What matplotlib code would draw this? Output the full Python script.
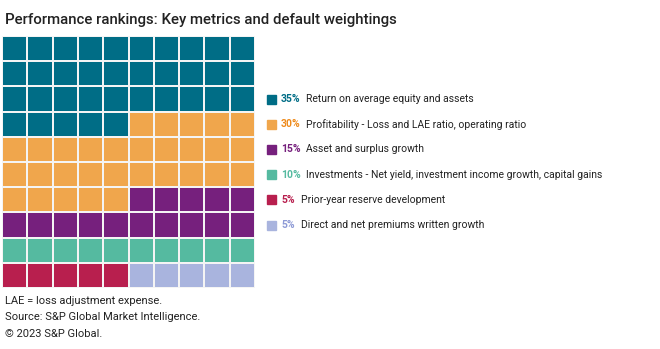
import numpy as np
import matplotlib
matplotlib.use("Agg")
from matplotlib import pyplot as plt
from matplotlib.colors import ListedColormap

# data
labels = ["Return on average equity and assets",
          "Profitability - Loss and LAE ratio, operating ratio",
          "Asset and surplus growth",
          "Investments - Net yield, investment income growth, capital gains",
          "Prior-year reserve development",
          "Direct and net premiums written growth"]
weights = [35, 30, 15, 10, 5, 5]
colors = ["#006D86", "#F0A64C", "#76207D", "#55BAA0", "#B81F4E", "#A9B4DE"]
pct_colors = ["#006D86", "#EE8A1A", "#76207D", "#55BAA0", "#B81F4E", "#8D9AD6"]

plt.rcParams["font.family"] = ["Roboto", "DejaVu Sans"]

fig = plt.figure(figsize=(6.6, 3.49), dpi=100)

# waffle: fill 10x10 grid row by row from the top
cells = np.repeat(np.arange(len(weights)), weights).reshape(10, 10)
ax = fig.add_axes([2 / 660, 1 - 288 / 349, 253 / 660, 252 / 349])
ax.pcolormesh(cells, cmap=ListedColormap(colors), vmin=-0.5, vmax=len(weights) - 0.5,
              edgecolors="#f4f4f4", linewidth=1.2)
ax.set_xlim(0, 10)
ax.set_ylim(10, 0)
ax.axis("off")

fig.text(5 / 660, 1 - 20 / 349, "Performance rankings: Key metrics and default weightings",
         fontsize=10.8, fontweight="medium", color="#222222", va="center", ha="left")

# legend
y0 = 99
for i, (lab, w) in enumerate(zip(labels, weights)):
    y = 1 - (y0 + i * 25.2) / 349
    fig.patches.append(plt.Rectangle((267 / 660, y - 4.5 / 349), 9 / 660, 9 / 349,
                                     transform=fig.transFigure, color=colors[i]))
    fig.text(281 / 660, y, f"{w}%", fontsize=7.5, fontweight="bold",
             color=pct_colors[i], va="center", ha="left")
    fig.text((281 + (25 if w >= 10 else 20)) / 660, y, lab, fontsize=7.5,
             color="#222222", va="center", ha="left")

foot = ["LAE = loss adjustment expense.",
        "Source: S&P Global Market Intelligence.",
        "\u00a9 2023 S&P Global."]
for i, s in enumerate(foot):
    fig.text(5 / 660, 1 - (301 + i * 16.5) / 349, s, fontsize=8, color="#222222",
             va="center", ha="left")

fig.savefig("out.png", dpi=100)
